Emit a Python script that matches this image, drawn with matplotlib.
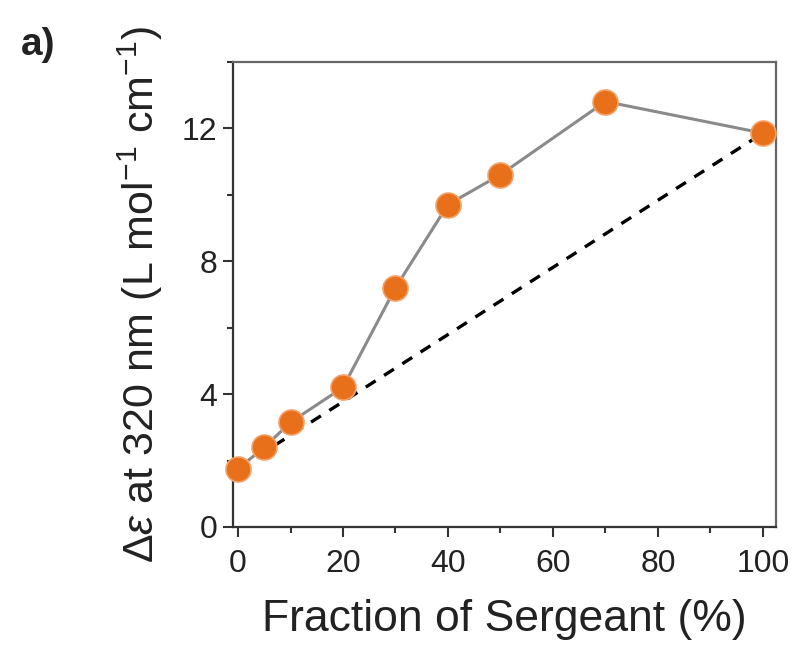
import matplotlib

matplotlib.use("Agg")
import matplotlib.pyplot as plt
from matplotlib.ticker import MultipleLocator

plt.rcParams["font.family"] = ["Liberation Sans", "DejaVu Sans"]
plt.rcParams["mathtext.fontset"] = "custom"
plt.rcParams["mathtext.rm"] = "Liberation Sans"
plt.rcParams["mathtext.it"] = "Liberation Sans:italic"

fraction = [0, 5, 10, 20, 30, 40, 50, 70, 100]
delta_eps = [1.75, 2.4, 3.15, 4.2, 7.2, 9.7, 10.6, 12.8, 11.85]
linear_x = [0, 100]
linear_y = [1.75, 11.85]

fig = plt.figure(figsize=(8.0, 6.49), dpi=100)
ax = fig.add_axes([0.291, 0.188, 0.679, 0.717])

ax.plot(linear_x, linear_y, color="black", linestyle=(0, (3.5, 3)), linewidth=2.4, zorder=2)
ax.plot(fraction, delta_eps, color="#8a8a8a", linewidth=2.2, zorder=3)
ax.plot(fraction, delta_eps, linestyle="none", marker="o", markersize=18,
        markerfacecolor="#e8701a", markeredgecolor="#f3a36a", markeredgewidth=1.2,
        zorder=4, clip_on=False)

ax.set_xlim(-1, 102.5)
ax.set_ylim(0, 14)
ax.xaxis.set_major_locator(MultipleLocator(20))
ax.xaxis.set_minor_locator(MultipleLocator(10))
ax.yaxis.set_major_locator(MultipleLocator(4))
ax.yaxis.set_minor_locator(MultipleLocator(2))
ax.tick_params(which="major", direction="out", length=7, width=1.5, labelsize=23,
               color="#333333", labelcolor="#222222", pad=4)
ax.tick_params(axis="x", which="major", pad=9)
ax.tick_params(which="minor", direction="out", length=4, width=1.5, color="#333333")
for side, sp in ax.spines.items():
    sp.set_linewidth(1.6)
    sp.set_color("#333333" if side in ("left", "bottom") else "#666666")

ax.set_xlabel("Fraction of Sergeant (%)", fontsize=32, color="#222222", labelpad=14)
ax.set_ylabel(r"$\Delta\mathit{\varepsilon}$ at 320 nm (L mol$^{-1}$ cm$^{-1}$)",
              fontsize=31, color="#222222", labelpad=12)

fig.text(0.026, 0.915, "a)", fontsize=28, fontweight="bold", color="#222222")

fig.savefig("out.png", dpi=100)
plt.close(fig)
